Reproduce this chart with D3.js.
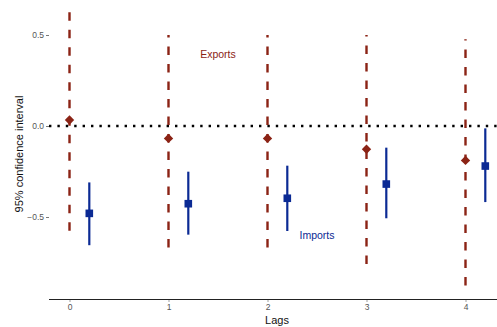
<!DOCTYPE html>
<html>
<head>
<meta charset="utf-8">
<script src="https://cdn.jsdelivr.net/npm/d3@7"></script>
<style>
  body { margin: 0; background: #fff; }
  text { font-family: "Liberation Sans", Arial, sans-serif; }
</style>
</head>
<body>
<div id="chart"></div>
<script>
// Lags and estimates
var lags = [0, 1, 2, 3, 4];
var exportsEst = [0.033, -0.068, -0.068, -0.128, -0.189];
var exportsLow = [-0.575, -0.667, -0.668, -0.758, -0.877];
var exportsHigh = [0.64, 0.5, 0.5, 0.5, 0.476];
var importsEst = [-0.48, -0.427, -0.397, -0.319, -0.22];
var importsLow = [-0.655, -0.597, -0.577, -0.507, -0.418];
var importsHigh = [-0.31, -0.251, -0.218, -0.119, -0.013];
var yTicks = [-0.5, 0, 0.5];

var exportCol = "#8b2315";
var importCol = "#0b2a94";

var width = 497, height = 327;
var margin = { top: 8, right: 0, bottom: 28, left: 49 };

var svg = d3.select("#chart").append("svg")
  .attr("width", width)
  .attr("height", height);

// Scales
var x = d3.scaleLinear().domain([0, 4]).range([69.5, 465.5]);
var y = d3.scaleLinear().domain([0, 0.5]).range([126, 35]);

var exportsData = lags.map(function (d, i) {
  return { lag: d, est: exportsEst[i], lo: exportsLow[i], hi: exportsHigh[i] };
});
// imports are dodged a little to the right
var importsData = lags.map(function (d, i) {
  return { lag: d + 0.2, est: importsEst[i], lo: importsLow[i], hi: importsHigh[i] };
});

// Y axis (ticks only, no line)
var yAxis = svg.append("g")
  .attr("transform", "translate(" + margin.left + ",0)")
  .call(d3.axisLeft(y).tickValues(yTicks).tickSize(3).tickPadding(2)
    .tickFormat(d3.format(".1f")));
yAxis.select(".domain").remove();
yAxis.selectAll(".tick line").attr("stroke", "#555").attr("stroke-width", 0.8);
yAxis.selectAll(".tick text").attr("fill", "#555").attr("font-size", 8.5);

// X axis
var xAxis = svg.append("g")
  .attr("transform", "translate(0,299.5)")
  .call(d3.axisBottom(x).tickValues(lags).tickSize(2.5).tickPadding(2)
    .tickFormat(d3.format("d")));
xAxis.select(".domain").remove();
xAxis.selectAll(".tick line").attr("stroke", "#888").attr("stroke-width", 0.8);
xAxis.selectAll(".tick text").attr("fill", "#555").attr("font-size", 8.5);

svg.append("line")
  .attr("x1", margin.left).attr("x2", width)
  .attr("y1", 299.5).attr("y2", 299.5)
  .attr("stroke", "#222").attr("stroke-width", 1.2);

// Zero reference line
svg.append("line")
  .attr("x1", margin.left).attr("x2", width)
  .attr("y1", y(0)).attr("y2", y(0))
  .attr("stroke", "#000").attr("stroke-width", 2.4)
  .attr("stroke-dasharray", "2.4,6");

// Exports intervals (dashed)
svg.selectAll(".expLine").data(exportsData).enter().append("line")
  .attr("class", "expLine")
  .attr("x1", function (d) { return x(d.lag); })
  .attr("x2", function (d) { return x(d.lag); })
  .attr("y1", function (d) { return y(d.lo); })
  .attr("y2", function (d) { return y(d.hi); })
  .attr("stroke", exportCol).attr("stroke-width", 2.4)
  .attr("stroke-dasharray", "8.5,9");

// Exports points (diamonds)
svg.selectAll(".expPt").data(exportsData).enter().append("path")
  .attr("class", "expPt")
  .attr("transform", function (d) { return "translate(" + x(d.lag) + "," + y(d.est) + ") rotate(45)"; })
  .attr("d", d3.symbol().type(d3.symbolSquare).size(44))
  .attr("fill", exportCol);

// Imports intervals (solid)
svg.selectAll(".impLine").data(importsData).enter().append("line")
  .attr("class", "impLine")
  .attr("x1", function (d) { return x(d.lag); })
  .attr("x2", function (d) { return x(d.lag); })
  .attr("y1", function (d) { return y(d.lo); })
  .attr("y2", function (d) { return y(d.hi); })
  .attr("stroke", importCol).attr("stroke-width", 2.2);

// Imports points (squares)
svg.selectAll(".impPt").data(importsData).enter().append("rect")
  .attr("class", "impPt")
  .attr("x", function (d) { return x(d.lag) - 3.8; })
  .attr("y", function (d) { return y(d.est) - 3.8; })
  .attr("width", 7.6).attr("height", 7.6)
  .attr("fill", importCol);

// Series labels
svg.append("text").attr("x", 218).attr("y", 58)
  .attr("text-anchor", "middle").attr("font-size", 10.5)
  .attr("fill", exportCol).text("Exports");
svg.append("text").attr("x", 317).attr("y", 239)
  .attr("text-anchor", "middle").attr("font-size", 10.5)
  .attr("fill", importCol).text("Imports");

// Axis titles
svg.append("text").attr("x", 277).attr("y", 324)
  .attr("text-anchor", "middle").attr("font-size", 11)
  .attr("fill", "#111").text("Lags");
svg.append("text")
  .attr("transform", "translate(23,154) rotate(-90)")
  .attr("text-anchor", "middle").attr("font-size", 11)
  .attr("fill", "#111").text("95% confidence interval");
</script>
</body>
</html>
